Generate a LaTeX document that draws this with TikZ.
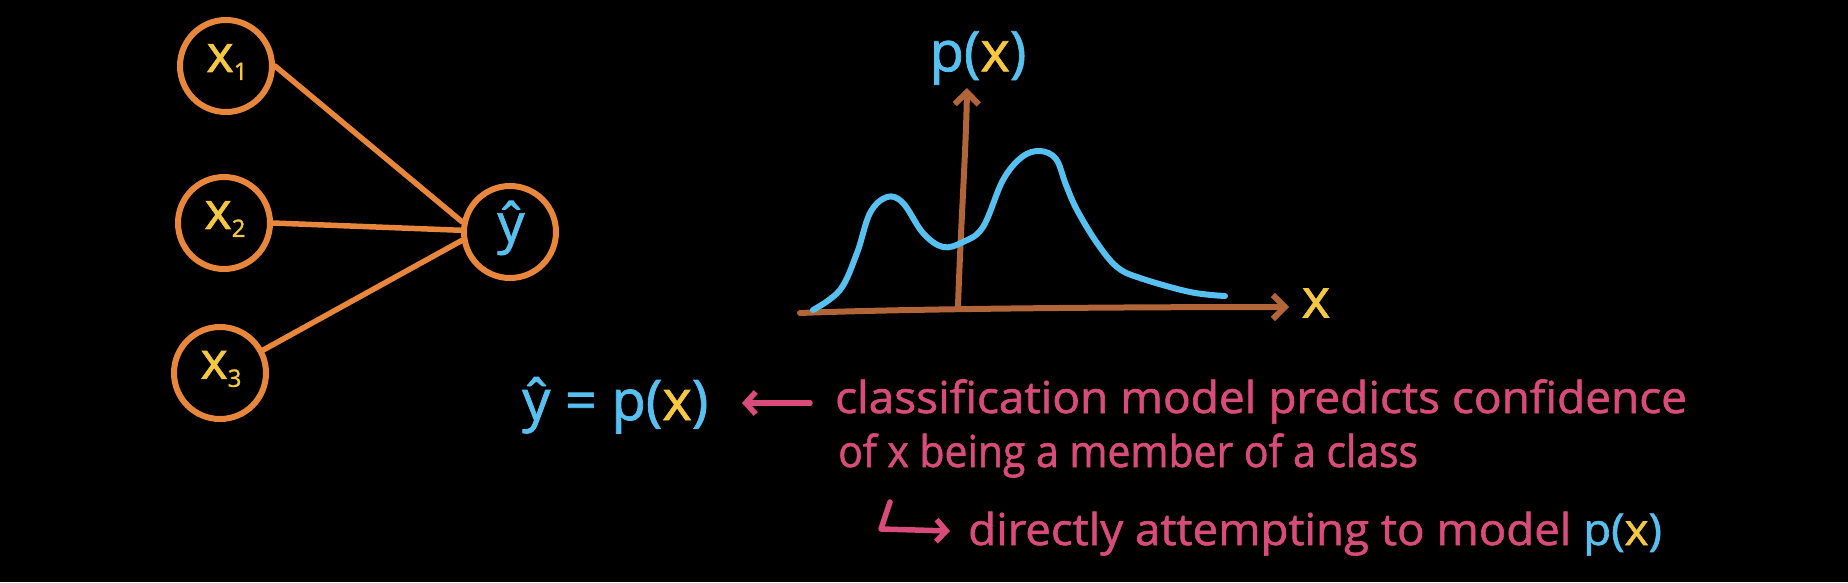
\documentclass[tikz,border=0pt]{standalone}
\usepackage{fontspec}
\newfontfamily\hand[FakeBold=1.3,AutoFakeBold=1.3]{Open Sans}
\usetikzlibrary{arrows.meta}
\definecolor{corange}{RGB}{232,134,60}
\definecolor{cyellow}{RGB}{246,200,64}
\definecolor{cblue}{RGB}{86,192,240}
\definecolor{cpink}{RGB}{217,75,123}
\definecolor{cbrown}{RGB}{178,101,56}
\tikzset{
  neuron/.style={circle, draw=corange, line width=6pt, minimum size=92pt, inner sep=0pt},
  edge/.style={draw=corange, line width=5.5pt, line cap=round},
  axis/.style={draw=cbrown, line width=6pt, line cap=round, -{Straight Barb[length=12pt,width=24pt,line width=6pt]}},
  density/.style={draw=cblue, line width=6pt, line cap=round, line join=round},
  pinktext/.style={text=cpink, font=\hand\bfseries\fontsize{44}{50}\selectfont, inner sep=0pt, anchor=base west},
  pinkarrow/.style={draw=cpink, line width=5.5pt, line cap=round, line join=round, -{Straight Barb[length=10pt,width=22pt,line width=5.5pt]}},
  lbl/.style={font=\hand\bfseries\fontsize{40}{48}\selectfont, inner sep=0pt}
}
\newcommand{\sub}[1]{\raisebox{-8pt}{\fontsize{24}{24}\selectfont\bfseries #1}}
\begin{document}
\begin{tikzpicture}[x=1pt,y=-1pt]
\fill[black] (0,0) rectangle (1848,582);
\useasboundingbox (0,0) rectangle (1848,582);

% network
\node[neuron] (x1) at (226,66) {};
\node[neuron] (x2) at (224,223) {};
\node[neuron] (x3) at (220,373) {};
\node[neuron] (yh) at (510,232) {};
\node[lbl, text=cyellow, font=\hand\bfseries\fontsize{52}{52}\selectfont] (lx1) at (227,62) {x\sub{1}};
\node[lbl, text=cyellow, font=\hand\bfseries\fontsize{52}{52}\selectfont] (lx2) at (225,219) {x\sub{2}};
\node[lbl, text=cyellow, font=\hand\bfseries\fontsize{52}{52}\selectfont] (lx3) at (221,369) {x\sub{3}};
\node[lbl, text=cblue, font=\hand\bfseries\fontsize{54}{56}\selectfont] (lyh) at (511,228) {ŷ};
\draw[edge] (x1.east) -- (yh.168);
\draw[edge] (x2.east) -- (yh.178);
\draw[edge] (x3.28) -- (yh.190);

% density plot
\coordinate (xa0) at (800,313);
\coordinate (xa1) at (1289,307);
\coordinate (ya0) at (958,306);
\coordinate (ya1) at (967,88);
\draw[axis] (xa0) .. controls (900,309) and (1100,307) .. (xa1);
\draw[axis] (ya0) .. controls (961,220) and (966,150) .. (ya1);
\draw[density] plot[smooth, tension=0.6] coordinates {
 (813,310) (840,290) (857,253) (870,213) (887,197) (903,203) (923,233)
 (943,247) (963,242) (983,227) (1003,180) (1022,157) (1040,151) (1056,159)
 (1066,185) (1077,210) (1097,243) (1117,267) (1140,278) (1190,292) (1225,296)};
\node[lbl, text=cblue, font=\hand\bfseries\fontsize{56}{60}\selectfont] (px) at (978,58) {p(\textcolor{cyellow}{x})};
\node[lbl, text=cyellow, font=\hand\bfseries\fontsize{54}{56}\selectfont] (xl) at (1316,303) {x};

% equation and notes
\node[lbl, text=cblue, anchor=base west, font=\hand\bfseries\fontsize{56}{60}\selectfont] (eq) at (522,420) {ŷ = p(\textcolor{cyellow}{x})};
\coordinate (a1s) at (810,403);
\coordinate (a1e) at (742,403);
\draw[pinkarrow] (a1s) -- (a1e);
\node[pinktext] (t1) at (835,413) {\scalebox{1.045}[1]{classification model predicts confidence}};
\node[pinktext] (t2) at (838,467) {\scalebox{0.93}[1]{of x being a member of a class}};
\coordinate (h0) at (890,502);
\coordinate (h1) at (881,529);
\coordinate (h2) at (950,531);
\draw[pinkarrow] (h0) -- (h1) -- (h2);
\node[pinktext] (t3) at (968,545) {\scalebox{1.036}[1]{directly attempting to model \textcolor{cblue}{p(\textcolor{cyellow}{x})}}};
\end{tikzpicture}
\end{document}
